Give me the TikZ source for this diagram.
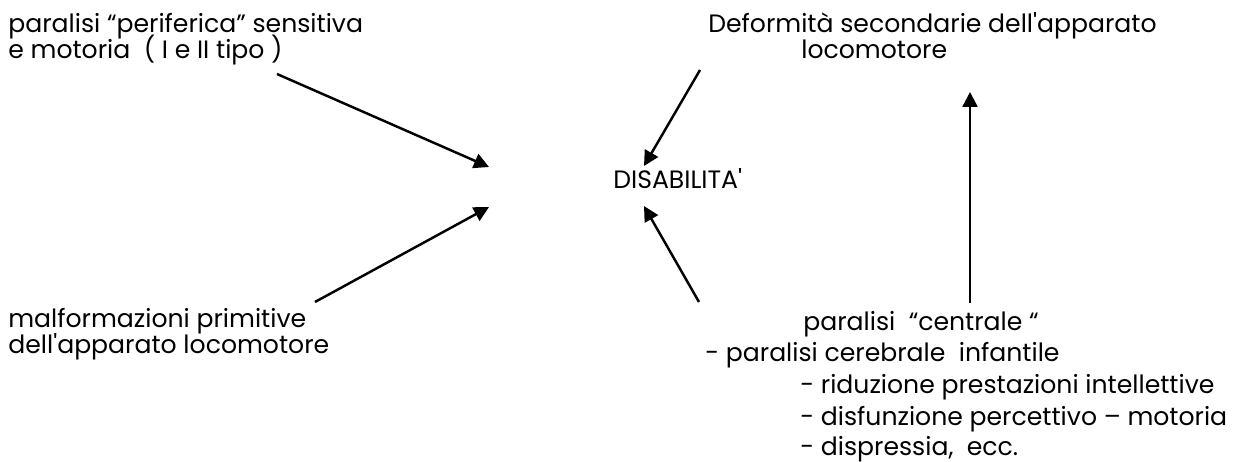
\documentclass[tikz,border=0pt]{standalone}
\usepackage{fontspec}
\setmainfont{Poppins}[Ligatures=TeXOff]
\usetikzlibrary{arrows.meta}

\begin{document}
\begin{tikzpicture}[x=0.02cm, y=-0.02cm, every node/.style={font=\fontsize{14.3}{17}\selectfont, inner sep=0pt, anchor=base west},
    freccia/.style={-{Triangle[length=0.3cm, width=0.3cm]}, line width=1.4pt}]
    % Fix the page size
    \useasboundingbox (0,0) rectangle (1236,462);

    % Central term
    \node (dis) at (613,189) {DISABILITA'};

    % Causes on the left
    \node (per1) at (8,33) {paralisi “periferica” sensitiva};
    \node (per2) at (8,59) {e motoria\ \ ( I e II tipo )};
    \node (mal1) at (8,327) {malformazioni primitive};
    \node (mal2) at (8,353) {dell'apparato locomotore};

    % Secondary deformities
    \node (def1) at (708,33) {Deformità secondarie dell'apparato};
    \node (def2) at (801,59) {locomotore};

    % Central paralysis
    \node (cen1) at (803,330) {paralisi\ \ “centrale “};
    \node (cen2) at (705,361) {- paralisi cerebrale\ \ infantile};
    \node (cen3) at (800,393) {- riduzione prestazioni intellettive};
    \node (cen4) at (800,425) {- disfunzione percettivo – motoria};
    \node (cen5) at (800,455) {- dispressia,\ \ ecc.};

    % Arrow ends
    \coordinate (p1) at (277,74);   \coordinate (q1) at (489,167);
    \coordinate (p2) at (315,302);  \coordinate (q2) at (489,207);
    \coordinate (p3) at (700,70);   \coordinate (q3) at (644,166);
    \coordinate (p4) at (699,302);  \coordinate (q4) at (644,206);
    \coordinate (p5) at (970,303);  \coordinate (q5) at (970,92);

    % Arrows
    \draw[freccia] (p1) -- (q1);
    \draw[freccia] (p2) -- (q2);
    \draw[freccia] (p3) -- (q3);
    \draw[freccia] (p4) -- (q4);
    \draw[freccia] (p5) -- (q5);
\end{tikzpicture}
\end{document}
